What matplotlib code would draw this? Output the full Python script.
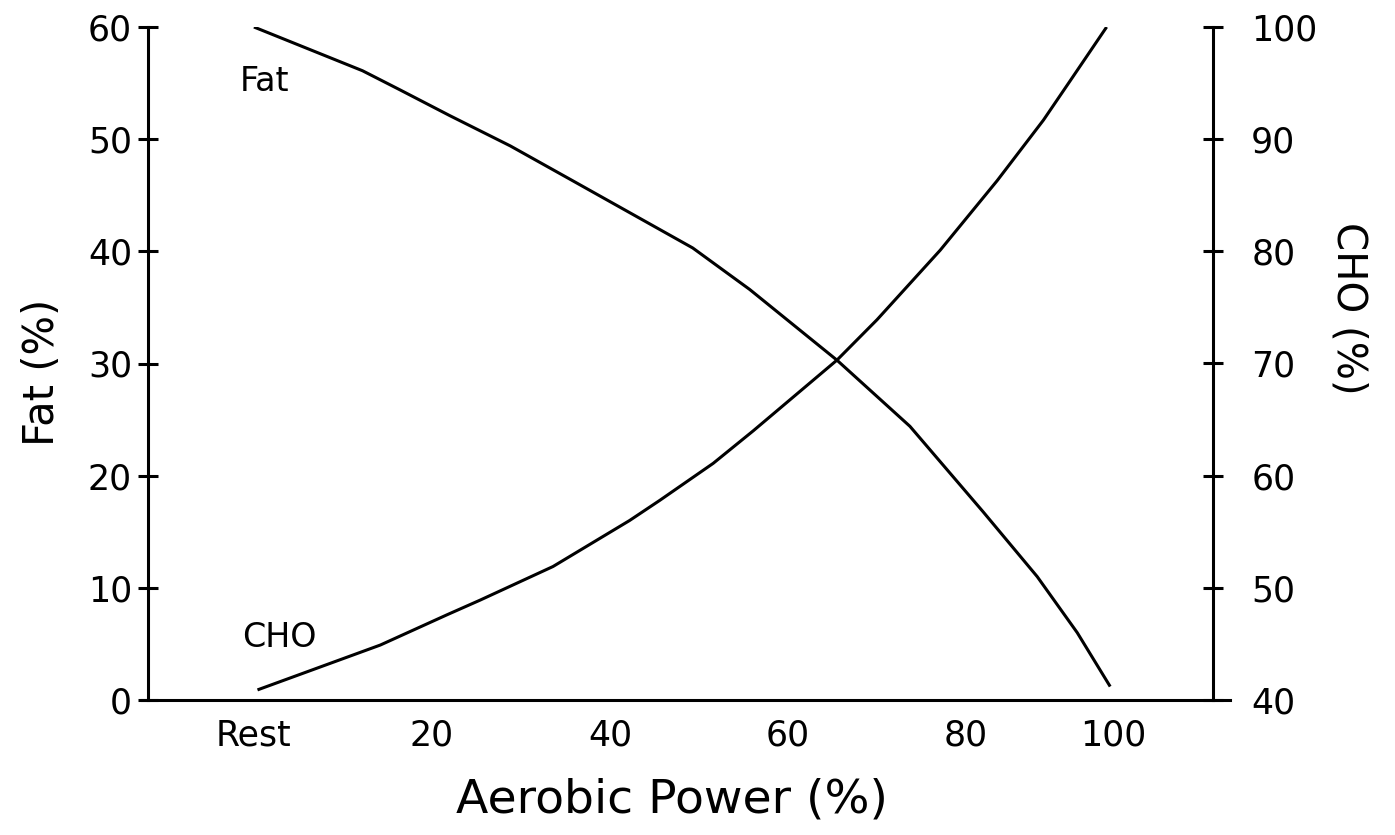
import matplotlib
matplotlib.use("Agg")
import matplotlib.pyplot as plt

# x positions: Rest sits at 0, the drawn "100" sits a bit short of the grid
x_ticks = [0, 20, 40, 60, 80, 96.5]
x_labels = ["Rest", "20", "40", "60", "80", "100"]

# Fat (%) curve, left axis
fat_x = [0, 12.2, 16.4, 22, 28.8, 35.8, 49.3, 55.7, 65.5, 73.7, 81.9, 88, 92.5, 96.2]
fat_y = [60, 56.1, 54.4, 52.1, 49.4, 46.3, 40.3, 36.6, 30.3, 24.4, 16.8, 11.0, 6.0, 1.2]

# CHO (%) curve, right axis
cho_x = [0.4, 14.2, 21.7, 25.4, 33.6, 42.2, 45.6, 51.6, 56.1, 65.5, 70, 77.1, 83.5, 88.7, 91.7, 95.8]
cho_y = [40.9, 44.9, 47.6, 48.9, 51.9, 56.0, 57.8, 61.1, 64.0, 70.3, 73.9, 80.1, 86.3, 91.7, 95.2, 100]

fat_ticks = [0, 10, 20, 30, 40, 50, 60]
cho_ticks = [40, 50, 60, 70, 80, 90, 100]

plt.rcParams['font.family'] = ['DejaVu Sans']
lw = 2.2

fig = plt.figure(figsize=(13.95, 8.35), dpi=100)
ax = fig.add_axes([148 / 1395, 1 - 700 / 835, 1065 / 1395, 673 / 835])
ax2 = ax.twinx()

ax.plot(fat_x, fat_y, color='black', lw=lw, solid_capstyle='butt')
ax2.plot(cho_x, cho_y, color='black', lw=lw, solid_capstyle='butt')

ax.set_xlim(-11.9, 107.75)
ax.set_ylim(0, 60)
ax2.set_ylim(40, 100)

ax.set_xticks(x_ticks)
ax.set_xticklabels(x_labels)
ax.set_yticks(fat_ticks)
ax2.set_yticks(cho_ticks)

ax.tick_params(axis='x', length=0, pad=13, labelsize=25)
ax.tick_params(axis='y', direction='inout', length=15, width=lw, pad=4, labelsize=25)
ax2.tick_params(axis='y', direction='inout', length=15, width=lw, pad=20, labelsize=25)

for a in (ax, ax2):
    a.spines['top'].set_visible(False)
    for s in ('left', 'right', 'bottom'):
        a.spines[s].set_linewidth(lw)
ax2.spines['left'].set_visible(False)
ax2.spines['bottom'].set_visible(False)
ax.spines['right'].set_visible(False)
ax.spines['bottom'].set_bounds(-12.6, 109.7)

ax.text(1.2, 55.1, "Fat", fontsize=24, ha='center', va='center')
ax.text(2.9, 5.6, "CHO", fontsize=24, ha='center', va='center')

fig.text(42 / 1395, 1 - 372 / 835, "Fat (%)", rotation=90, fontsize=30,
         ha='center', va='center')
fig.text(1348 / 1395, 1 - 308 / 835, "CHO (%)", rotation=270, fontsize=29,
         ha='center', va='center')
fig.text(672 / 1395, 1 - 800 / 835, "Aerobic Power (%)", fontsize=34,
         ha='center', va='center')

fig.savefig("out.png", dpi=100, facecolor='white')
